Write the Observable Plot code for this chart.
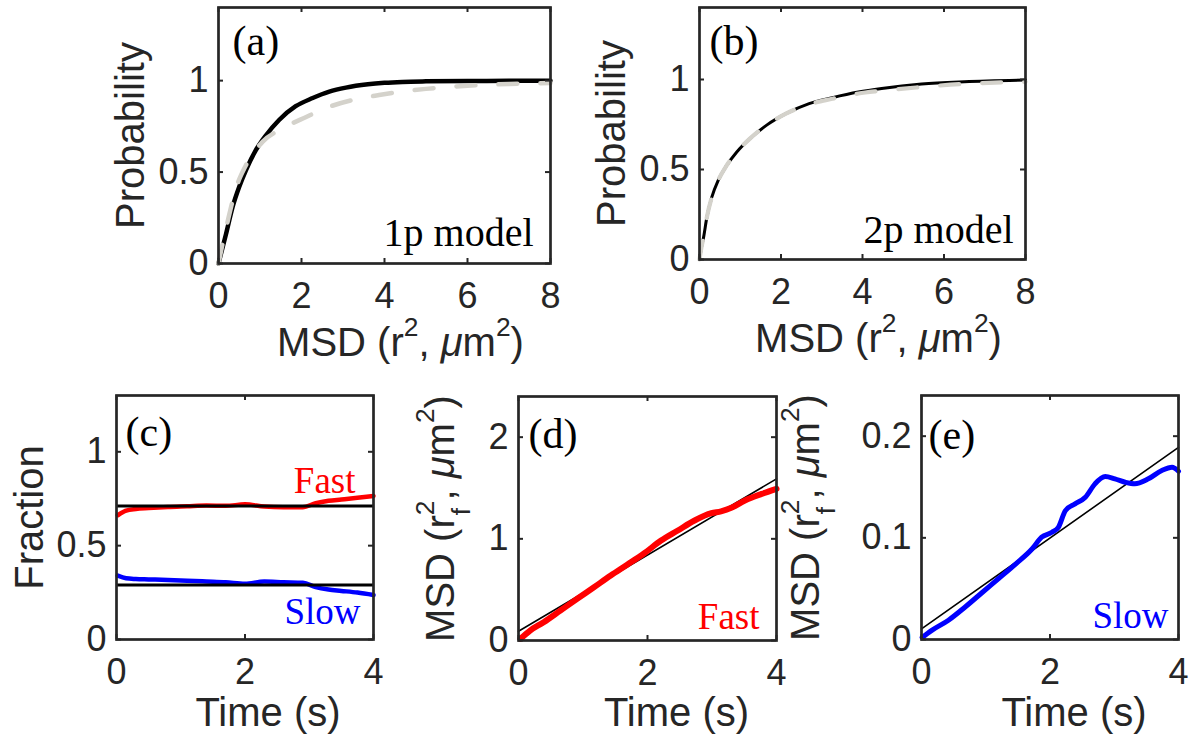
<!DOCTYPE html>
<html>
<head>
<meta charset="utf-8">
<script src="https://cdn.jsdelivr.net/npm/d3@7"></script>
<script src="https://cdn.jsdelivr.net/npm/@observablehq/plot@0.6"></script>
<style>
  html, body { margin: 0; padding: 0; background: #fff; }
  #fig { position: relative; width: 1198px; height: 736px; overflow: hidden; background: #fff; }
  #fig > svg { position: absolute; }
</style>
</head>
<body>
<div id="fig"></div>
<script>
// ---------- (a) one-population model: cumulative probability of the MSD ----------
const msdA      = [0, 0.18, 0.34, 0.5, 0.66, 0.9, 1.14, 1.46, 1.86, 2.27, 2.67, 3.07, 3.6, 4.0, 4.43, 5, 6, 7, 8];
const probAFit  = [0, 0.16, 0.31, 0.42, 0.51, 0.62, 0.70, 0.785, 0.86, 0.905, 0.94, 0.962, 0.98, 0.988, 0.993, 0.996, 0.998, 0.999, 1.0];
const msdAObs   = [0, 0.1, 0.2, 0.42, 0.66, 1.06, 1.54, 2.1, 2.67, 3.23, 3.87, 4.43, 5, 6, 7, 8];
const probAObs  = [0, 0.11, 0.21, 0.41, 0.537, 0.665, 0.738, 0.80, 0.857, 0.894, 0.921, 0.94, 0.955, 0.972, 0.982, 0.987];

// ---------- (b) two-population model ----------
const msdB      = [0, 0.05, 0.1, 0.18, 0.3, 0.46, 0.66, 0.91, 1.23, 1.64, 2.12, 2.69, 3.26, 3.9, 4.47, 5.45, 6.5, 8];
const probBFit  = [0, 0.07, 0.123, 0.234, 0.345, 0.44, 0.52, 0.596, 0.67, 0.745, 0.81, 0.866, 0.899, 0.93, 0.95, 0.975, 0.988, 0.997];
const msdBObs   = [0, 0.05, 0.1, 0.18, 0.3, 0.46, 0.66, 0.91, 1.23, 1.64, 2.12, 2.69, 3.26, 3.9, 4.4, 5.45, 6.5, 7.65, 8];
const probBObs  = [0, 0.07, 0.123, 0.234, 0.345, 0.44, 0.52, 0.596, 0.67, 0.745, 0.81, 0.862, 0.893, 0.922, 0.936, 0.958, 0.976, 0.985, 0.987];

// ---------- (c) population fractions over time ----------
const timeC     = [0.02, 0.15, 0.3, 0.5, 0.8, 1.1, 1.4, 1.7, 2.0, 2.3, 2.6, 2.9, 3.1, 3.3, 3.5, 3.75, 4.0];
const fracFast  = [0.662, 0.686, 0.695, 0.700, 0.706, 0.710, 0.714, 0.712, 0.720, 0.708, 0.704, 0.705, 0.726, 0.739, 0.746, 0.755, 0.765];
const fracSlow  = [0.340, 0.326, 0.322, 0.320, 0.317, 0.313, 0.309, 0.305, 0.297, 0.309, 0.305, 0.302, 0.279, 0.266, 0.259, 0.250, 0.237];
const fracMean  = [0.711, 0.291];

// ---------- (d) MSD of the fast population ----------
const timeD     = [0.03, 0.18, 0.39, 0.65, 0.91, 1.17, 1.43, 1.69, 1.95, 2.21, 2.47, 2.73, 2.99, 3.14, 3.30, 3.51, 3.77, 4.0];
const msdFast   = [0.017, 0.098, 0.18, 0.295, 0.41, 0.524, 0.639, 0.747, 0.858, 0.983, 1.082, 1.18, 1.252, 1.271, 1.305, 1.377, 1.442, 1.492];
const fitTimeD  = [0, 4];
const fitFast   = [0.091, 1.59];

// ---------- (e) MSD of the slow population ----------
const timeE     = [0.01, 0.16, 0.42, 0.68, 0.94, 1.20, 1.46, 1.72, 1.87, 2.03, 2.13, 2.24, 2.39, 2.55, 2.70, 2.86, 3.01, 3.17, 3.32, 3.53, 3.74, 3.90, 4.0];
const msdSlow   = [0.002, 0.009, 0.019, 0.032, 0.046, 0.060, 0.074, 0.089, 0.1006, 0.1055, 0.1104, 0.1268, 0.1334, 0.1399, 0.1531, 0.1603, 0.158, 0.1547, 0.1531, 0.158, 0.1662, 0.1694, 0.1655];
const fitTimeE  = [0, 4];
const fitSlow   = [0.0105, 0.189];

// ---------- axis ticks ----------
const ticksMSD  = [0, 2, 4, 6, 8];
const ticksProb = [0, 0.5, 1];
const ticksTime = [0, 2, 4];
const ticksFrac = [0, 0.5, 1];
const ticksD    = [0, 1, 2];
const ticksE    = [0, 0.1, 0.2];

// ---------- styling ----------
const SANS  = "'Liberation Sans', Arial, Helvetica, sans-serif";
const SERIF = "'Liberation Serif', 'Times New Roman', Times, serif";
const INK   = "#262626";
const GREY  = "#d4d2cb";
const RED   = "#ff0000";
const BLUE  = "#0000ff";
const TICK_FS = 36, LABEL_FS = 40, NOTE_FS = 40, TAG_FS = 42;
const M = {l: 130, r: 30, t: 12, b: 110};
const fmt = (d) => `${d}`;

const pairs = (xs, ys) => xs.map((x, i) => [x, ys[i]]);
const fig = document.getElementById("fig");

// axis-label markup: plain string used by Plot, segments used for super/subscripts
const lblMSD  = [{t: "MSD (r"}, {t: "2", sup: true}, {t: ", "}, {t: "\u03bc", it: true}, {t: "m"}, {t: "2", sup: true}, {t: ")"}];
const lblMSDf = [{t: "MSD (r"}, {t: "2", sup: true}, {t: "f", sub: true, stack: true}, {t: ", "}, {t: "\u03bc", it: true}, {t: "m"}, {t: "2", sup: true}, {t: ")"}];
const plain = (segs) => segs.map((s) => s.t).join("");

function richText(svg, segs, base) {
  const target = plain(segs);
  for (const el of svg.querySelectorAll("text")) {
    if (el.textContent !== target) continue;
    el.textContent = "";
    let shift = 0, lastW = 0, pendingDx = 0;
    for (const s of segs) {
      const ts = document.createElementNS("http://www.w3.org/2000/svg", "tspan");
      ts.textContent = s.t;
      const want = s.sup ? -0.5 * base : s.sub ? 0.4 * base : 0;
      if (want !== shift) { ts.setAttribute("dy", want - shift); shift = want; }
      if (s.sup || s.sub) ts.setAttribute("font-size", 0.66 * base);
      if (s.it) ts.setAttribute("font-style", "italic");
      let dx = pendingDx;
      if (s.stack) dx -= lastW;
      if (dx) ts.setAttribute("dx", dx);
      el.appendChild(ts);
      const w = ts.getComputedTextLength();
      pendingDx = s.stack ? Math.max(0, lastW - w) : 0;
      lastW = w;
    }
  }
}

function panel({frame: [x0, y0, x1, y1], xDomain, yDomain, xTicks, yTicks, marks, xLabel, yLabel, notes}) {
  const fw = x1 - x0, fh = y1 - y0, tk = 5;
  const svg = Plot.plot({
    width: fw + M.l + M.r, height: fh + M.t + M.b,
    marginLeft: M.l, marginRight: M.r, marginTop: M.t, marginBottom: M.b,
    x: {domain: xDomain, label: null},
    y: {domain: yDomain, label: null},
    style: {background: "transparent", overflow: "visible", fontFamily: SANS, color: INK},
    marks: [
      ...marks,
      // inward ticks on all four sides
      Plot.tickX(xTicks, {x: (d) => d, insetTop: fh - tk, stroke: INK, strokeWidth: 2}),
      Plot.tickX(xTicks, {x: (d) => d, insetBottom: fh - tk, stroke: INK, strokeWidth: 2}),
      Plot.tickY(yTicks, {y: (d) => d, insetLeft: fw - tk, stroke: INK, strokeWidth: 2}),
      Plot.tickY(yTicks, {y: (d) => d, insetRight: fw - tk, stroke: INK, strokeWidth: 2}),
      Plot.frame({stroke: INK, strokeWidth: 2.7}),
      Plot.axisX(xTicks, {tickSize: 0, tickPadding: 19, fontSize: TICK_FS, label: null, tickFormat: fmt}),
      Plot.axisY(yTicks, {tickSize: 0, tickPadding: 10, fontSize: TICK_FS, label: null, tickFormat: fmt}),
      Plot.text([plain(xLabel.segs)], {text: (d) => d, frameAnchor: "bottom", textAnchor: "middle", lineAnchor: "bottom",
        dx: xLabel.dx, dy: xLabel.dy, fontSize: LABEL_FS, fill: INK}),
      Plot.text([plain(yLabel.segs)], {text: (d) => d, frameAnchor: "left", rotate: -90, textAnchor: "middle", lineAnchor: "bottom",
        dx: yLabel.dx, dy: 0, fontSize: LABEL_FS, fill: INK}),
      ...notes.map((n) => Plot.text([n.t], {text: (d) => d, frameAnchor: n.anchor, textAnchor: n.anchor.endsWith("right") ? "end" : "start",
        lineAnchor: "bottom", dx: n.dx, dy: n.dy, fontSize: n.fs ?? NOTE_FS, fontFamily: SERIF, fill: n.color ?? "#000"}))
    ]
  });
  svg.style.left = (x0 - M.l) + "px";
  svg.style.top = (y0 - M.t) + "px";
  fig.appendChild(svg);
  richText(svg, xLabel.segs, LABEL_FS);
  richText(svg, yLabel.segs, LABEL_FS);
  return svg;
}

const dashed = "19,23";

// (a)
panel({
  frame: [218, 7, 550, 263], xDomain: [0, 8], yDomain: [0, 1.4], xTicks: ticksMSD, yTicks: ticksProb,
  marks: [
    Plot.line(pairs(msdA, probAFit), {stroke: "#000", strokeWidth: 4.5, curve: "monotone-x"}),
    Plot.line(pairs(msdAObs, probAObs), {stroke: GREY, strokeWidth: 4.5, strokeDasharray: dashed, curve: "monotone-x"})
  ],
  xLabel: {segs: lblMSD, dx: 16, dy: 92},
  yLabel: {segs: [{t: "Probability"}], dx: -75},
  notes: [
    {t: "(a)", anchor: "top-left", dx: 14, dy: 47, fs: TAG_FS},
    {t: "1p model", anchor: "bottom-right", dx: -17, dy: -18}
  ]
});

// (b)
panel({
  frame: [699, 7, 1025, 259], xDomain: [0, 8], yDomain: [0, 1.4], xTicks: ticksMSD, yTicks: ticksProb,
  marks: [
    Plot.line(pairs(msdB, probBFit), {stroke: "#000", strokeWidth: 3, curve: "monotone-x"}),
    Plot.line(pairs(msdBObs, probBObs), {stroke: GREY, strokeWidth: 4.2, strokeDasharray: dashed, curve: "monotone-x"})
  ],
  xLabel: {segs: lblMSD, dx: 16, dy: 92},
  yLabel: {segs: [{t: "Probability"}], dx: -75},
  notes: [
    {t: "(b)", anchor: "top-left", dx: 10, dy: 47, fs: TAG_FS},
    {t: "2p model", anchor: "bottom-right", dx: -12, dy: -17}
  ]
});

// (c)
panel({
  frame: [116, 395, 373, 639], xDomain: [0, 4], yDomain: [0, 1.3], xTicks: ticksTime, yTicks: ticksFrac,
  marks: [
    Plot.line(pairs(timeC, fracFast), {stroke: RED, strokeWidth: 4.5, curve: "monotone-x"}),
    Plot.line(pairs(timeC, fracSlow), {stroke: BLUE, strokeWidth: 4.5, curve: "monotone-x"}),
    Plot.ruleY(fracMean, {stroke: "#000", strokeWidth: 3})
  ],
  xLabel: {segs: [{t: "Time (s)"}], dx: 23, dy: 86},
  yLabel: {segs: [{t: "Fraction"}], dx: -74},
  notes: [
    {t: "(c)", anchor: "top-left", dx: 9, dy: 50, fs: TAG_FS},
    {t: "Fast", anchor: "top-right", dx: -18, dy: 97, fs: 37, color: RED},
    {t: "Slow", anchor: "bottom-right", dx: -13, dy: -16, fs: 37, color: BLUE}
  ]
});

// (d)
panel({
  frame: [518, 396, 776, 640], xDomain: [0, 4], yDomain: [0, 2.4], xTicks: ticksTime, yTicks: ticksD,
  marks: [
    Plot.line(pairs(fitTimeD, fitFast), {stroke: "#000", strokeWidth: 1.6}),
    Plot.line(pairs(timeD, msdFast), {stroke: RED, strokeWidth: 6, curve: "monotone-x"})
  ],
  xLabel: {segs: [{t: "Time (s)"}], dx: 29, dy: 85},
  yLabel: {segs: lblMSDf, dx: -65},
  notes: [
    {t: "(d)", anchor: "top-left", dx: 10, dy: 51, fs: TAG_FS},
    {t: "Fast", anchor: "bottom-right", dx: -17, dy: -12, fs: 37, color: RED}
  ]
});

// (e)
panel({
  frame: [921, 395, 1178, 639], xDomain: [0, 4], yDomain: [0, 0.24], xTicks: ticksTime, yTicks: ticksE,
  marks: [
    Plot.line(pairs(fitTimeE, fitSlow), {stroke: "#000", strokeWidth: 1.6}),
    Plot.line(pairs(timeE, msdSlow), {stroke: BLUE, strokeWidth: 5, curve: "monotone-x"})
  ],
  xLabel: {segs: [{t: "Time (s)"}], dx: 24, dy: 86},
  yLabel: {segs: lblMSDf, dx: -103},
  notes: [
    {t: "(e)", anchor: "top-left", dx: 7, dy: 53, fs: TAG_FS},
    {t: "Slow", anchor: "bottom-right", dx: -10, dy: -12, fs: 37, color: BLUE}
  ]
});
</script>
</body>
</html>
